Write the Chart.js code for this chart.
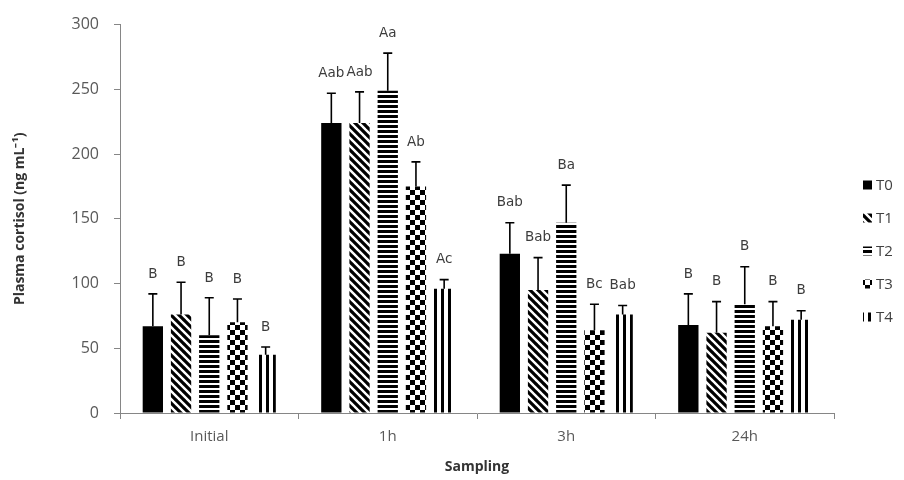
<!DOCTYPE html>
<html>
<head>
<meta charset="utf-8">
<script src="https://cdn.jsdelivr.net/npm/chart.js@4/dist/chart.umd.min.js"></script>
<style>
  html, body { margin: 0; padding: 0; background: #ffffff; }
  #wrap { width: 904px; height: 480px; }
  canvas { display: block; }
</style>
</head>
<body>
<div id="wrap"><canvas id="chart" width="904" height="480"></canvas></div>
<script>
// Sampling times on the x axis
const categories = ['Initial', '1h', '3h', '24h'];
const seriesNames = ['T0', 'T1', 'T2', 'T3', 'T4'];

// Mean plasma cortisol (ng mL-1) per treatment
const t0Values = [67, 224, 123, 68];
const t1Values = [76, 224, 95, 62];
const t2Values = [60, 249, 147, 84];
const t3Values = [70, 175, 64, 67];
const t4Values = [45, 96, 76, 72];

// Standard deviation (upper error bar)
const t0Errors = [25, 23, 24, 24];
const t1Errors = [25, 24, 25, 24];
const t2Errors = [29, 29, 29, 29];
const t3Errors = [18, 19, 20, 19];
const t4Errors = [6, 7, 7, 7];

// Significance letters above each bar
const t0Letters = ['B', 'Aab', 'Bab', 'B'];
const t1Letters = ['B', 'Aab', 'Bab', 'B'];
const t2Letters = ['B', 'Aa', 'Ba', 'B'];
const t3Letters = ['B', 'Ab', 'Bc', 'B'];
const t4Letters = ['B', 'Ac', 'Bab', 'B'];

// Y axis range
const yMin = 0;
const yMax = 300;
const yStep = 50;

const canvas = document.getElementById('chart');
const ctx = canvas.getContext('2d');

// Black-and-white fill patterns for the treatments
function makePattern(w, h, draw) {
  const c = document.createElement('canvas');
  c.width = w; c.height = h;
  const g = c.getContext('2d');
  g.fillStyle = '#ffffff';
  g.fillRect(0, 0, w, h);
  g.fillStyle = '#000000';
  g.strokeStyle = '#000000';
  draw(g, w, h);
  return ctx.createPattern(c, 'repeat');
}

const solidFill = '#000000';
const diagonalFill = makePattern(8, 8, (g) => {
  g.lineWidth = 3.2;
  g.beginPath();
  for (const k of [-8, 0, 8]) {
    g.moveTo(k - 1, -1);
    g.lineTo(k + 9, 9);
  }
  g.stroke();
});
const horizontalFill = makePattern(5, 5, (g) => { g.fillRect(0, 0, 5, 3); });
const checkerFill = makePattern(10, 10, (g) => {
  g.fillRect(0, 0, 5, 5);
  g.fillRect(5, 5, 5, 5);
});
const verticalFill = makePattern(7, 7, (g) => { g.fillRect(0, 0, 3, 7); });

const fills = [solidFill, diagonalFill, horizontalFill, checkerFill, verticalFill];
const valueSets = [t0Values, t1Values, t2Values, t3Values, t4Values];
const errorSets = [t0Errors, t1Errors, t2Errors, t3Errors, t4Errors];
const letterSets = [t0Letters, t1Letters, t2Letters, t3Letters, t4Letters];

const datasets = seriesNames.map((name, i) => ({
  label: name,
  data: valueSets[i],
  errors: errorSets[i],
  letters: letterSets[i],
  backgroundColor: fills[i],
  borderWidth: 0,
  categoryPercentage: 0.79,
  barPercentage: 0.72
}));

// Upper error bars with caps, then the letters above them
const errorBarPlugin = {
  id: 'errorBars',
  afterDatasetsDraw(chart) {
    const c = chart.ctx;
    const yScale = chart.scales.y;
    c.save();
    chart.data.datasets.forEach((ds, di) => {
      const meta = chart.getDatasetMeta(di);
      meta.data.forEach((bar, j) => {
        const top = yScale.getPixelForValue(ds.data[j] + ds.errors[j]);
        c.strokeStyle = '#000000';
        c.lineWidth = 1.6;
        c.beginPath();
        c.moveTo(bar.x, bar.y);
        c.lineTo(bar.x, top);
        c.moveTo(bar.x - 4.5, top);
        c.lineTo(bar.x + 4.5, top);
        c.stroke();

        c.fillStyle = '#3c3c3c';
        c.font = '13.5px "DejaVu Sans"';
        c.textAlign = 'center';
        c.textBaseline = 'bottom';
        c.fillText(ds.letters[j], bar.x, top - 13);
      });
    });
    c.restore();
  }
};

// Legend column on the right
const legendPlugin = {
  id: 'sideLegend',
  afterDraw(chart) {
    const c = chart.ctx;
    c.save();
    chart.data.datasets.forEach((ds, i) => {
      const cy = 185 + i * 33;
      c.fillStyle = ds.backgroundColor;
      c.fillRect(863, cy - 4.5, 9, 9);
      c.fillStyle = '#404040';
      c.font = '15px "Open Sans"';
      c.textAlign = 'left';
      c.textBaseline = 'middle';
      c.fillText(ds.label, 876, cy + 1);
    });
    c.restore();
  }
};

new Chart(ctx, {
  type: 'bar',
  data: { labels: categories, datasets },
  options: {
    responsive: false,
    devicePixelRatio: 1,
    animation: false,
    layout: { padding: { top: 20, right: 70, bottom: 0, left: 0 } },
    plugins: {
      legend: { display: false },
      tooltip: { enabled: false }
    },
    scales: {
      x: {
        grid: { display: true, drawOnChartArea: false, drawTicks: true, tickLength: 6, color: '#868686', offset: true },
        border: { color: '#868686', width: 1 },
        ticks: { color: '#595959', font: { family: 'Open Sans', size: 15 }, padding: 9 },
        title: {
          display: true,
          text: 'Sampling',
          color: '#333333',
          font: { family: 'Open Sans', size: 14, weight: 'bold' },
          padding: { top: 0, bottom: 5 }
        },
        afterFit(scale) { scale.height = 67; }
      },
      y: {
        min: yMin,
        max: yMax,
        grid: { display: true, drawOnChartArea: false, drawTicks: true, tickLength: 6, color: '#868686' },
        border: { color: '#868686', width: 1 },
        ticks: { stepSize: yStep, color: '#595959', font: { family: 'Open Sans', size: 16 }, padding: 15 },
        title: {
          display: true,
          text: 'Plasma cortisol (ng mL⁻¹)',
          color: '#333333',
          font: { family: 'Open Sans', size: 14, weight: 'bold' },
          padding: { top: 12, bottom: 0 }
        },
        afterFit(scale) { scale.width = 120; }
      }
    }
  },
  plugins: [errorBarPlugin, legendPlugin]
});
</script>
</body>
</html>
